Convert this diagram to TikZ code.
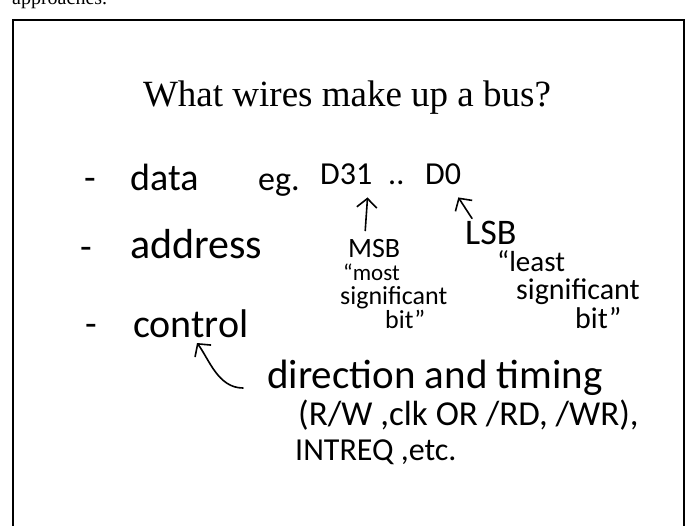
\documentclass[tikz,border=0pt]{standalone}
\usepackage{fontspec}
\setmainfont{Liberation Serif}
\newfontfamily\handfont{Carlito}
\usetikzlibrary{arrows.meta}

\begin{document}
\begin{tikzpicture}[x=1pt,y=-1pt,
  hand/.style={font=\handfont\fontsize{#1}{#1}\selectfont,inner sep=0pt,anchor=base west},
  hand/.default=38,
  pen/.style={line width=1.6pt,line cap=round,line join=round},
  barb/.style={-{Straight Barb[length=9pt,width=20pt,line width=1.6pt]}}]
\useasboundingbox (0,0) rectangle (690,525);
% slide frame, open at the bottom
\draw[line width=2.6pt] (13,540) -- (13,20) -- (684,20) -- (684,540);
\node[font=\fontsize{20}{20}\selectfont,inner sep=0pt,anchor=base west] (prev) at (12,4) {approaches.};
\node[font=\fontsize{37}{37}\selectfont,inner sep=0pt,anchor=base] (title) at (347,106) {What wires make up a bus?};

% the three groups of wires
\node[hand] (dash1) at (84,190) {-};
\node[hand] (data) at (130,190) {data};
\node[hand=34] (eg) at (258,190) {eg.};
\node[hand=32] (d31) at (320,184) {D31};
\node[hand=32] (dots) at (388,184) {..};
\node[hand=32] (d0) at (425,184) {D0};
\node[hand] (dash2) at (80,259) {-};
\node[hand=42] (address) at (130,258) {address};
\node[hand] (dash3) at (85,336) {-};
\node[hand=40] (control) at (133,337) {control};

% MSB / LSB notes
\node[hand=28] (msb) at (348,257) {MSB};
\node[hand=23] (most) at (343,280) {“most};
\node[hand=26] (sigm) at (340,304) {significant};
\node[hand=26] (bitm) at (385,328) {bit”};
\node[hand=36] (lsb) at (465,244) {LSB};
\node[hand=29] (least) at (497,271) {“least};
\node[hand=30] (sigl) at (516,299) {significant};
\node[hand=30] (bitl) at (575,328) {bit”};

% control lines
\node[hand=41] (dir) at (267,388) {direction and timing};
\node[hand=35] (sig) at (298,425) {(R/W ,clk OR /RD, /WR),};
\node[hand=32] (intreq) at (295,460) {INTREQ ,etc.};

\draw[pen,barb] ([xshift=-9pt,yshift=8pt]msb.north) -- ([xshift=-5pt,yshift=-13pt]d31.south east);
\draw[pen,barb] ([xshift=7pt,yshift=2pt]lsb.north west) -- ([xshift=-3pt,yshift=-13pt]d0.south east);
\draw[pen,barb] ([xshift=-24pt]dir.base west) .. controls +(-25,0) and +(12,16) .. ([xshift=64pt,yshift=-6pt]control.base west);
\end{tikzpicture}
\end{document}
